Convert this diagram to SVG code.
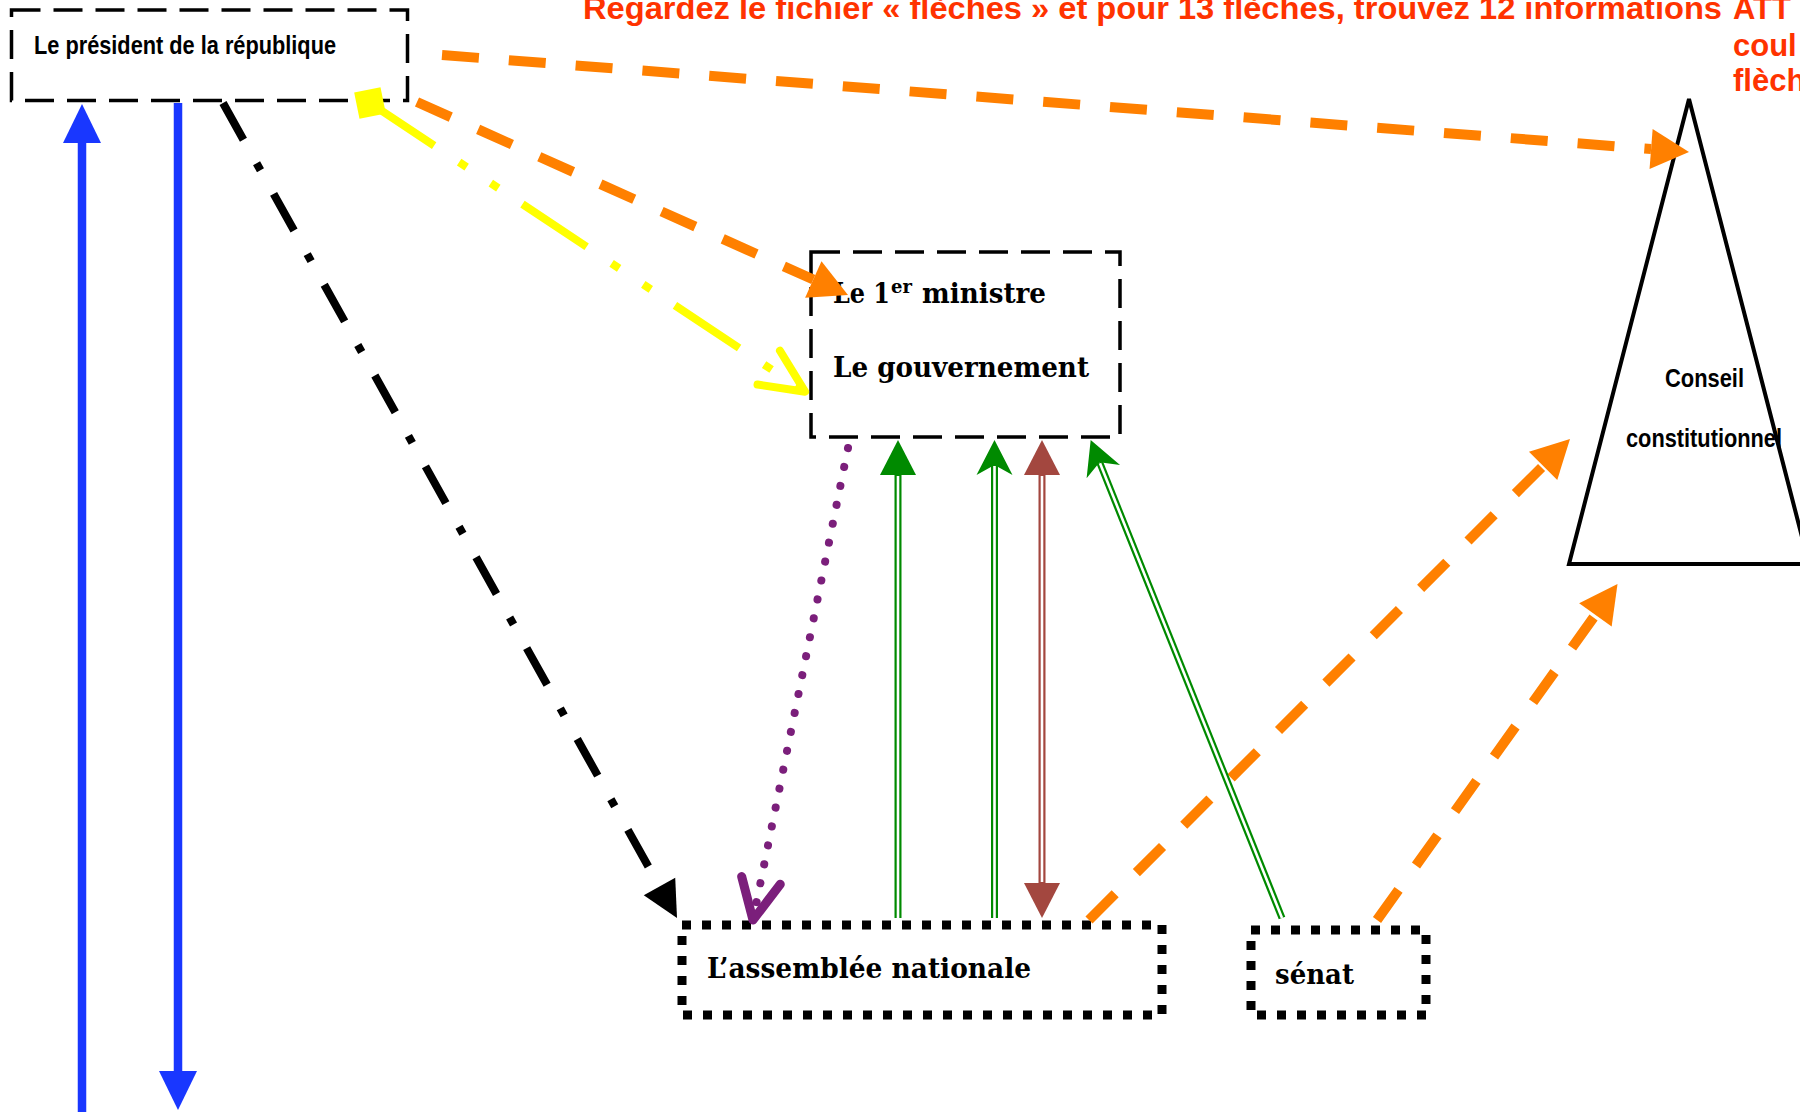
<svg xmlns="http://www.w3.org/2000/svg" width="1800" height="1112" viewBox="0 0 1800 1112">
<style>
.sansN { font-family: "Liberation Sans Narrow", "Liberation Sans", Arial, sans-serif; font-weight: bold; fill: #000; }
.sans { font-family: "Liberation Sans", Arial, sans-serif; font-weight: bold; }
.serif { font-family: "DejaVu Serif", "Liberation Serif", serif; font-weight: bold; fill: #000; }
.red { fill: #FF3300; font-size: 31px; }
.dashbox { fill: none; stroke: #000; stroke-width: 3.5; stroke-dasharray: 29 13; }
.dotbox { fill: none; stroke: #000; stroke-width: 9; stroke-dasharray: 9 11; }
.orange { fill: none; stroke: #FF8000; stroke-width: 10; stroke-dasharray: 37 30; marker-end: url(#hOrange); }
.blue { fill: none; stroke: #1937FF; stroke-width: 8.5; marker-end: url(#hBlue); }
.dbl-in { fill: none; stroke: #FFFFFF; stroke-width: 2.6; }
.green { fill: none; stroke: #008A00; stroke-width: 7; }
.brown { fill: none; stroke: #A3473F; stroke-width: 7; }
</style>
<defs>
  <marker id="hOrange" viewBox="-50 -30 60 60" markerWidth="60" markerHeight="60" markerUnits="userSpaceOnUse" refX="-38" refY="0" orient="auto">
    <path d="M0,0 L-38,-20 L-38,20 Z" fill="#FF8000"/>
  </marker>
  <marker id="hBlack" viewBox="-50 -30 60 60" markerWidth="60" markerHeight="60" markerUnits="userSpaceOnUse" refX="-36" refY="0" orient="auto">
    <path d="M0,0 L-36,-18 L-36,18 Z" fill="#000"/>
  </marker>
  <marker id="hBlue" viewBox="-50 -30 60 60" markerWidth="60" markerHeight="60" markerUnits="userSpaceOnUse" refX="-39" refY="0" orient="auto">
    <path d="M0,0 L-39,-19 L-39,19 Z" fill="#1937FF"/>
  </marker>
  <marker id="hGreen" viewBox="-50 -30 60 60" markerWidth="60" markerHeight="60" markerUnits="userSpaceOnUse" refX="-35" refY="0" orient="auto">
    <path d="M0,0 L-35,-18 L-35,18 Z" fill="#008A00"/>
  </marker>
  <marker id="hGreenC" viewBox="-50 -30 60 60" markerWidth="60" markerHeight="60" markerUnits="userSpaceOnUse" refX="-25" refY="0" orient="auto">
    <path d="M0,0 L-35,-18 L-25,0 L-35,18 Z" fill="#008A00"/>
  </marker>
  <marker id="hGreenD" viewBox="-50 -30 60 60" markerWidth="60" markerHeight="60" markerUnits="userSpaceOnUse" refX="-24" refY="0" orient="auto">
    <path d="M0,0 L-34,-18 L-24,0 L-34,18 Z" fill="#008A00"/>
  </marker>
  <marker id="hBrown" viewBox="-50 -30 60 60" markerWidth="60" markerHeight="60" markerUnits="userSpaceOnUse" refX="-35" refY="0" orient="auto-start-reverse">
    <path d="M0,0 L-35,-18 L-35,18 Z" fill="#A3473F"/>
  </marker>
  <marker id="vYellow" viewBox="-55 -30 65 60" markerWidth="65" markerHeight="60" markerUnits="userSpaceOnUse" refX="0" refY="0" orient="auto">
    <path d="M-43.5,-20.3 L0,0 L-43.5,20.3" fill="none" stroke="#FFFF00" stroke-width="8" stroke-linecap="round" stroke-linejoin="round"/>
  </marker>
  <marker id="dYellow" viewBox="-25 -25 50 50" markerWidth="50" markerHeight="50" markerUnits="userSpaceOnUse" refX="0" refY="0" orient="auto">
    <path d="M-19,0 L0,-19 L19,0 L0,19 Z" fill="#FFFF00"/>
  </marker>
  <marker id="vPurple" viewBox="-55 -30 65 60" markerWidth="65" markerHeight="60" markerUnits="userSpaceOnUse" refX="0" refY="0" orient="auto">
    <path d="M-40.4,-19.7 L0,0 L-40.4,19.7" fill="none" stroke="#7B1F7B" stroke-width="9" stroke-linecap="round" stroke-linejoin="round"/>
  </marker>
</defs>

<rect x="0" y="0" width="1800" height="1112" fill="#FFFFFF"/>

<g id="title">
  <text class="sans red" x="583" y="19" textLength="1139" lengthAdjust="spacingAndGlyphs">Regardez le fichier « flèches » et pour 13 flèches, trouvez 12 informations</text>
  <text class="sans red" x="1733" y="19">ATT</text>
  <text class="sans red" x="1733" y="56">coul</text>
  <text class="sans red" x="1733" y="91">flèch</text>
</g>

<g id="president">
  <rect class="dashbox" x="11.5" y="10" width="396" height="90.5"/>
  <text class="sansN" x="34" y="54" font-size="26" textLength="302" lengthAdjust="spacingAndGlyphs">Le président de la république</text>
</g>

<g id="ministre">
  <rect class="dashbox" x="811" y="252" width="309" height="185"/>
  <text class="serif" font-size="27"><tspan x="833" y="303" textLength="57" lengthAdjust="spacingAndGlyphs">Le 1</tspan><tspan x="891" y="293" font-size="18">er</tspan><tspan x="913" y="303" textLength="133" lengthAdjust="spacingAndGlyphs"> ministre</tspan></text>
  <text class="serif" x="833" y="377" font-size="27" textLength="256" lengthAdjust="spacingAndGlyphs">Le gouvernement</text>
</g>

<g id="assemblee">
  <rect class="dotbox" x="682" y="925" width="480" height="90"/>
  <text class="serif" x="707" y="978" font-size="28" textLength="324" lengthAdjust="spacingAndGlyphs">L’assemblée nationale</text>
</g>

<g id="senat">
  <rect class="dotbox" x="1251" y="930" width="175" height="85"/>
  <text class="serif" x="1275" y="984" font-size="28" textLength="79" lengthAdjust="spacingAndGlyphs">sénat</text>
</g>

<g id="conseil">
  <polygon points="1689,99 1569,564 1809,564" fill="none" stroke="#000" stroke-width="4"/>
  <text class="sansN" x="1665" y="387" font-size="25" textLength="79" lengthAdjust="spacingAndGlyphs">Conseil</text>
  <text class="sansN" x="1626" y="447" font-size="25" textLength="156" lengthAdjust="spacingAndGlyphs">constitutionnel</text>
</g>

<g id="connectors">
  <line class="blue" x1="82" y1="1112" x2="82" y2="143"/>
  <line class="blue" x1="178" y1="103" x2="178" y2="1071"/>
  <line class="orange" x1="442" y1="55" x2="1651.1" y2="149.05"/>
  <line class="orange" x1="417" y1="102" x2="813.3" y2="279.5"/>
  <line class="orange" x1="1089" y1="920" x2="1543.1" y2="465.9"/>
  <line class="orange" x1="1377" y1="920" x2="1595.4" y2="614.9"/>
  <line x1="223" y1="103" x2="659.5" y2="886.6" fill="none" stroke="#000" stroke-width="8" stroke-dasharray="42 27 8 27" marker-end="url(#hBlack)"/>
  <line x1="370" y1="103" x2="805" y2="391.7" fill="none" stroke="#FFFF00" stroke-width="8" stroke-dasharray="77 30 9 29 9 29" marker-start="url(#dYellow)" marker-end="url(#vYellow)"/>
  <line x1="848" y1="448" x2="753" y2="920" fill="none" stroke="#7B1F7B" stroke-width="8" stroke-linecap="round" stroke-dasharray="0.1 19.2" marker-end="url(#vPurple)"/>
  <line class="green" x1="898" y1="918" x2="898" y2="475" marker-end="url(#hGreen)"/>
  <line class="dbl-in" x1="898" y1="918" x2="898" y2="476"/>
  <line class="green" x1="994.5" y1="918" x2="994.5" y2="465" marker-end="url(#hGreenC)"/>
  <line class="dbl-in" x1="994.5" y1="918" x2="994.5" y2="466"/>
  <line class="brown" x1="1042" y1="883" x2="1042" y2="475" marker-start="url(#hBrown)" marker-end="url(#hBrown)"/>
  <line class="dbl-in" x1="1042" y1="882" x2="1042" y2="476"/>
  <line class="green" x1="1282" y1="918" x2="1099.6" y2="462.3" marker-end="url(#hGreenD)"/>
  <line class="dbl-in" x1="1282" y1="918" x2="1100" y2="463.2"/>
</g>
</svg>
